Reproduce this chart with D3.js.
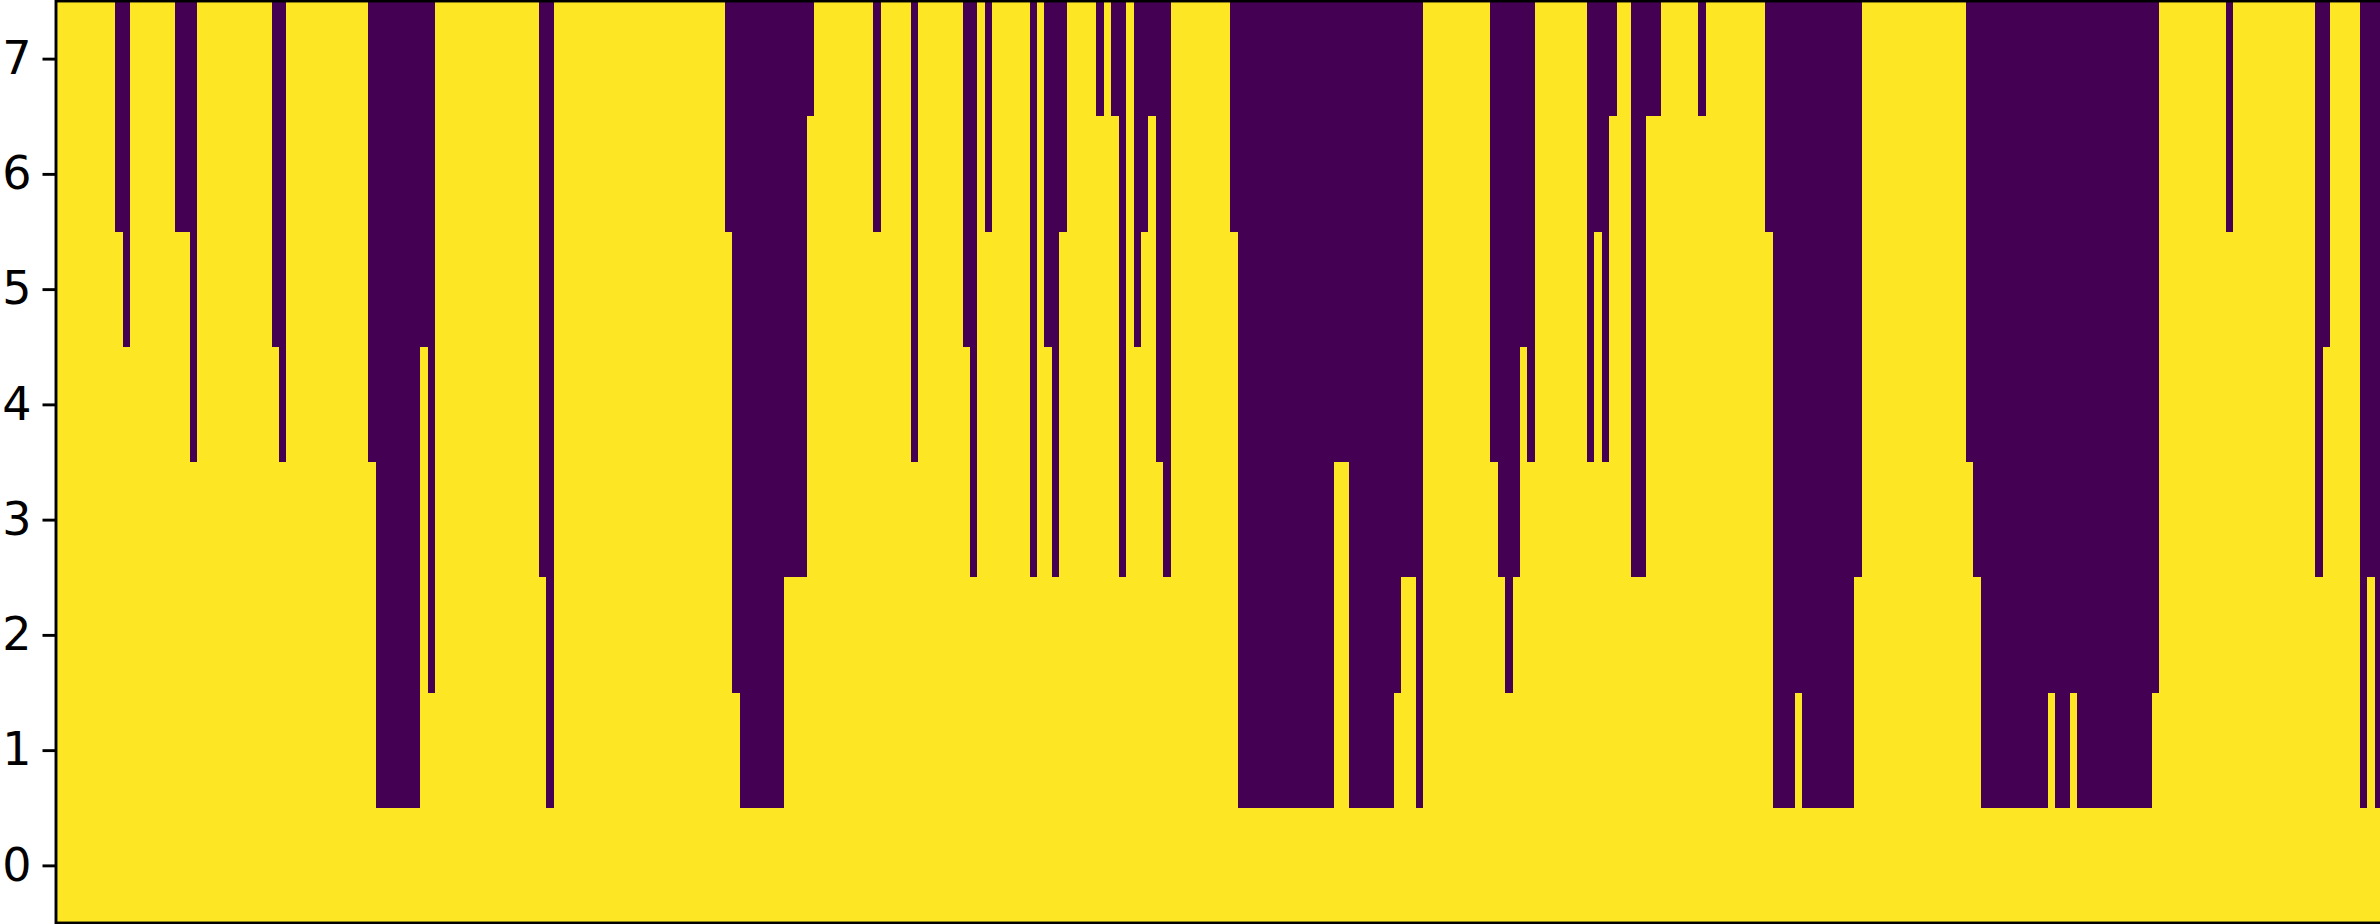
<!DOCTYPE html>
<html>
<head>
<meta charset="utf-8">
<script src="https://cdn.jsdelivr.net/npm/d3@7"></script>
<style>
  html, body { margin: 0; padding: 0; background: #ffffff; overflow: hidden; }
  svg { display: block; }
  .tick text { font-family: "DejaVu Sans", sans-serif; }
</style>
</head>
<body>
<svg id="chart" width="2380" height="924"></svg>
<script>
// Number of yellow cells (counted from row 0 upward) in each of the 313 columns
const yellowRows = [
  8,8,8,8,8,8,8,8,6,5, 8,8,8,8,8,8,6,6,4,8, 8,8,8,8,8,8,8,8,8,5, 4,8,8,8,8,8,8,8,8,8,
  8,8,4,1,1,1,1,1,1,5, 2,8,8,8,8,8,8,8,8,8, 8,8,8,8,8,3,1,8,8,8, 8,8,8,8,8,8,8,8,8,8,
  8,8,8,8,8,8,8,8,8,8, 6,2,1,1,1,1,1,1,3,3, 3,7,8,8,8,8,8,8,8,8, 6,8,8,8,8,4,8,8,8,8,
  8,8,5,3,8,6,8,8,8,8, 8,3,8,5,3,6,8,8,8,8, 7,8,7,3,8,5,6,7,4,3, 8,8,8,8,8,8,8,8,6,1,
  1,1,1,1,1,1,1,1,1,1, 1,1,4,4,1,1,1,1,1,1, 2,3,3,1,8,8,8,8,8,8, 8,8,8,4,3,2,3,5,4,8,
  8,8,8,8,8,8,4,6,4,7, 8,8,3,3,7,7,8,8,8,8, 8,7,8,8,8,8,8,8,8,8, 6,1,1,1,2,1,1,1,1,1,
  1,1,3,8,8,8,8,8,8,8, 8,8,8,8,8,8,8,4,3,1, 1,1,1,1,1,1,1,1,2,1, 1,2,1,1,1,1,1,1,1,1,
  1,1,2,8,8,8,8,8,8,8, 8,8,6,8,8,8,8,8,8,8, 8,8,8,8,3,5,8,8,8,8, 1,3,1
];
const rowLabels = [0, 1, 2, 3, 4, 5, 6, 7];
const colorLow = "#440154";
const colorHigh = "#fde725";

(function () {
  const svg = d3.select("#chart");
  const mLeft = 56, mRight = 2382, mTop = 1, mBottom = 923;

  const nCols = yellowRows.length;
  const x = d3.scaleLinear().domain([-0.5, nCols - 0.5]).range([mLeft, mRight]);
  const y = d3.scaleLinear().domain([-0.5, 7.5]).range([mBottom, mTop]);
  const color = d3.scaleOrdinal().domain([0, 1]).range([colorLow, colorHigh]);

  const cells = [];
  yellowRows.forEach((lvl, c) => {
    rowLabels.forEach(r => cells.push({ c, r, v: r < lvl ? 1 : 0 }));
  });

  svg.append("g")
    .attr("shape-rendering", "crispEdges")
    .selectAll("rect")
    .data(cells)
    .join("rect")
    .attr("x", d => x(d.c - 0.5))
    .attr("width", d => x(d.c + 0.5) - x(d.c - 0.5))
    .attr("y", d => y(d.r + 0.5))
    .attr("height", d => y(d.r - 0.5) - y(d.r + 0.5))
    .attr("fill", d => color(d.v));

  // y axis
  const yAxis = d3.axisLeft(y).tickValues(rowLabels).tickSize(13.5).tickPadding(11).tickFormat(d3.format("d"));
  const gy = svg.append("g").attr("transform", `translate(${mLeft},0)`).call(yAxis);
  gy.attr("font-size", 46).attr("font-family", "DejaVu Sans, sans-serif");
  gy.select(".domain").remove();
  gy.selectAll(".tick line").attr("stroke", "#000").attr("stroke-width", 2.9);
  gy.selectAll(".tick text")
    .attr("fill", "#000")
    .attr("font-size", 46)
    .style("font-size", "46px");

  // spines
  svg.append("rect")
    .attr("fill", "none").attr("stroke", "#000").attr("stroke-width", 2.9)
    .attr("x", mLeft).attr("y", mTop)
    .attr("width", mRight - mLeft).attr("height", mBottom - mTop);
})();
</script>
</body>
</html>
